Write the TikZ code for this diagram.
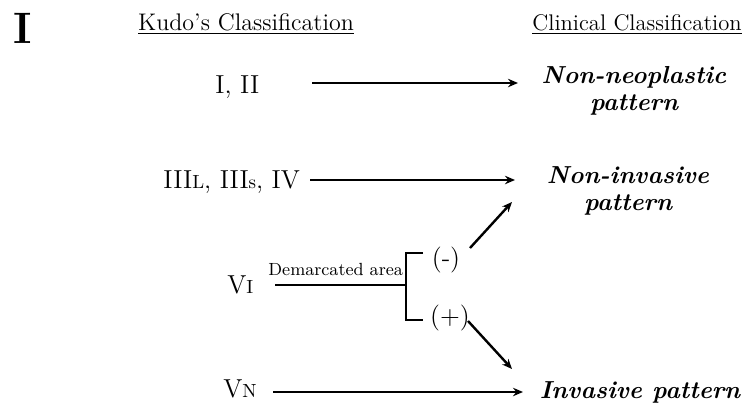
\documentclass[tikz,border=0pt]{standalone}
\usepackage{fontspec}
\usetikzlibrary{arrows.meta,positioning,calc}

\newcommand{\lowcap}[1]{{\fontsize{9.5}{11}\selectfont #1}}

\begin{document}
\begin{tikzpicture}[
    x=0.5pt, y=-0.5pt,
    head/.style={font=\fontsize{#1}{14}\selectfont, anchor=base, inner sep=0pt},
    kudo/.style={font=\fontsize{13}{15}\selectfont, anchor=base west, inner sep=0pt},
    clin/.style={font=\fontsize{12.3}{13.5}\selectfont\bfseries\itshape,
                 align=center, inner sep=0pt},
    sgn/.style={font=\fontsize{13}{15}\selectfont, inner sep=0pt},
    lbl/.style={font=\fontsize{8.8}{10}\selectfont, anchor=base west, inner sep=0pt},
    arr/.style={-{Stealth[length=5pt,width=4.2pt]}, line width=1.2pt},
    brk/.style={line width=1.4pt}
  ]
    \useasboundingbox (0,0) rectangle (743,407);

    % Headings
    \node[font=\fontsize{22}{22}\selectfont\bfseries, anchor=base west, inner sep=0pt]
      (panel) at (13,43) {I};
    \node[head=12]   (kudo) at (246,30) {\underline{Kudo’s Classification}};
    \node[head=11.3] (clin) at (637,30) {\underline{Clinical Classification}};

    % Kudo's pit patterns
    \node[kudo] (kI)   at (215,93)  {I, II};
    \node[kudo] (kIII) at (163,188) {III\lowcap{L}, III\lowcap{s}, IV};
    \node[kudo] (kVI)  at (227,293) {V\lowcap{I}};
    \node[kudo] (kVN)  at (223,397) {V\lowcap{N}};

    % Clinical patterns
    \node[clin, anchor=north] (cNon)    at (634,66)  {Non-neoplastic\\pattern};
    \node[clin, anchor=north] (cNoninv) at (628,166) {Non-invasive\\pattern};
    \node[clin, anchor=base]  (cInv)    at (640,398) {Invasive pattern};

    % Demarcated area branch
    \node[lbl] (demarc) at (268,275) {Demarcated area};
    \node[sgn] (neg) at (446,260) {(-)};
    \node[sgn] (pos) at (450,318) {(+)};
    \coordinate (fork) at (406,285);

    % Arrows
    \draw[arr] ($(kI.base west)+(97,-10)$) -- ($(kI.base west -| cNon.north)+(-116,-10)$);
    \draw[arr] ($(kIII.base west)+(147,-8)$) -- ($(kIII.base west -| cNoninv.north)+(-113,-8)$);
    \draw[arr] ($(kVN.base west)+(50,-5)$) -- ($(kVN.base west -| cInv.base)+(-117,-5)$);
    \draw[brk] ($(kVI.base west)+(48,-8)$) -- (fork);
    \draw[brk] ($(fork)+(17,-32)$) -| ($(fork)+(0,35)$) -- ++(17,0);
    \draw[arr] ($(neg)+(24,-12)$) -- ($(cNoninv.north)+(-116,36)$);
    \draw[arr] ($(pos)+(18,3)$) -- ($(cInv.base)+(-128,-29)$);
  \end{tikzpicture}
\end{document}
